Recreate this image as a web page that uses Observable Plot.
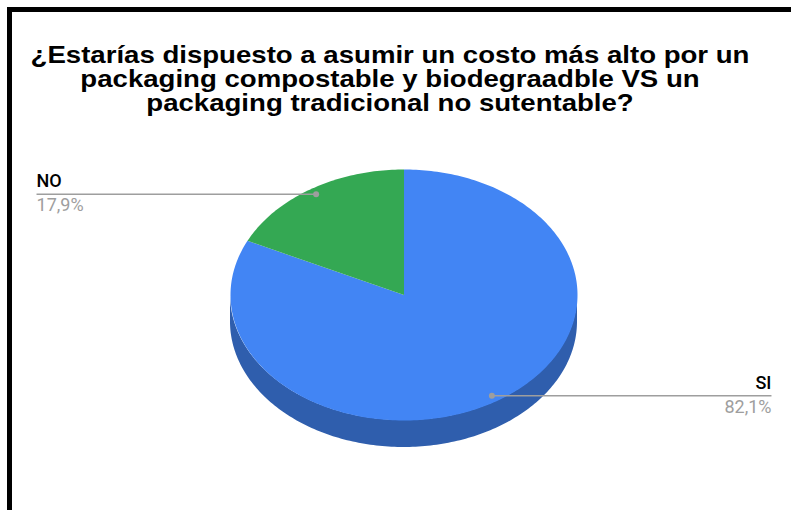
<!DOCTYPE html>
<html><head><meta charset="utf-8">
<script src="https://cdn.jsdelivr.net/npm/d3@7"></script>
<script src="https://cdn.jsdelivr.net/npm/@observablehq/plot@0.6"></script>
<style>
body{margin:0;background:#fff;}
#wrap{position:relative;width:791px;height:510px;overflow:hidden;}
#frame{position:absolute;left:7px;top:7px;width:900px;height:700px;border-top:5px solid #000;border-left:5px solid #000;pointer-events:none;}
</style></head><body>
<div id="wrap"><div id="chart"></div><div id="frame"></div></div>
<script>
const titleLines = ["¿Estarías dispuesto a asumir un costo más alto por un", "packaging compostable y biodegraadble VS un", "packaging tradicional no sutentable?"];
const categories = ["SI", "NO"];
const values = [82.1, 17.9];
const percentLabels = ["82,1%", "17,9%"];
const topColors = ["#4285F4", "#34A853"];
const sideColors = ["#2F5EAD", "#26803E"];

const depth = 0.215;
const total = d3.sum(values);
let acc = 0;
const slices = categories.map((c, i) => {
  const a0 = acc / total * 2 * Math.PI; acc += values[i];
  const a1 = acc / total * 2 * Math.PI;
  return {c, i, a0, a1, mid: (a0 + a1) / 2};
});
function arc(a0, a1) {
  const n = Math.max(2, Math.ceil((a1 - a0) / (Math.PI / 180)));
  return d3.range(n + 1).map(k => a0 + (a1 - a0) * k / n);
}
const topPts = slices.flatMap(s => [{c: s.c, x: 0, y: 0},
  ...arc(s.a0, s.a1).map(a => ({c: s.c, x: Math.sin(a), y: Math.cos(a)})), {c: s.c, x: 0, y: 0}]);
const sidePts = slices.flatMap(s => {
  const lo = Math.max(s.a0, Math.PI / 2), hi = Math.min(s.a1, 3 * Math.PI / 2);
  if (hi <= lo) return [];
  return arc(lo, hi).map(a => ({c: s.c, x: Math.sin(a), y1: Math.cos(a), y2: Math.cos(a) - depth}));
});
const labelData = slices.map(s => {
  const side = Math.sin(s.mid) >= 0 ? 1 : -1;
  return {c: s.c, pct: percentLabels[s.i], dx: 0.95 * Math.sin(s.mid), dy: 0.95 * Math.cos(s.mid), lx: side * 2.118, side};
});
const leftLabels = labelData.filter(d => d.side < 0);
const rightLabels = labelData.filter(d => d.side > 0);
const colorOf = c => topColors[categories.indexOf(c)];
const sideOf = c => sideColors[categories.indexOf(c)];

const labelMarks = (data, anchor) => [
  Plot.text(data, {x: "lx", y: "dy", text: "c", textAnchor: anchor, lineAnchor: "bottom", dy: -7, fontSize: 18, fontWeight: 500, fill: "#000"}),
  Plot.text(data, {x: "lx", y: "dy", text: "pct", textAnchor: anchor, lineAnchor: "top", dy: 4.5, fontSize: 18, fill: "#9e9e9e"})
];

const chart = Plot.plot({
  width: 791, height: 510, margin: 0,
  style: {fontFamily: "Roboto", background: "#fff", overflow: "visible"},
  x: {domain: [-1, 1], range: [230, 577], axis: null},
  y: {domain: [-1, 1], range: [420, 169], axis: null},
  marks: [
    ...categories.map(c => Plot.areaY(sidePts.filter(d => d.c === c), {x: "x", y1: "y1", y2: "y2", fill: sideOf(c)})),
    ...categories.map(c => Plot.line(topPts.filter(d => d.c === c), {x: "x", y: "y", fill: colorOf(c), stroke: "none", curve: "linear"})),
    Plot.link(labelData, {x1: "dx", y1: "dy", x2: "lx", y2: "dy", stroke: "#9e9e9e", strokeWidth: 1.5}),
    Plot.dot(labelData, {x: "dx", y: "dy", r: 3, fill: "#9e9e9e"}),
    ...labelMarks(leftLabels, "start"),
    ...labelMarks(rightLabels, "end"),
    Plot.text([titleLines.join("\n")], {frameAnchor: "top", dx: -6, dy: 45, lineAnchor: "top", lineHeight: 1.045, fontSize: 23, fontWeight: "bold", fontFamily: "Liberation Sans", fill: "#000", className: "title-text"})
  ]
});
// stretch the title horizontally to match the reference's wide lettering
const t = chart.querySelector("g.title-text text") || [...chart.querySelectorAll("text")].find(e => e.textContent.startsWith("¿"));
if (t) {
  const tr = t.getAttribute("transform") || "";
  t.setAttribute("transform", tr + " scale(1.2,1)");
}
document.getElementById("chart").append(chart);
</script></body></html>
